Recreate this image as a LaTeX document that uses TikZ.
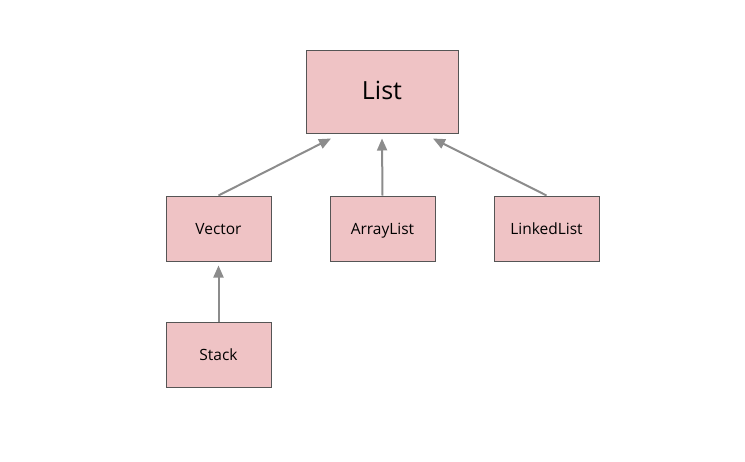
\documentclass[tikz,border=0pt]{standalone}
\usepackage{fontspec}
\setmainfont{Open Sans}
\usetikzlibrary{arrows.meta,calc}
\definecolor{boxfill}{HTML}{EFC3C5}
\definecolor{boxline}{HTML}{555555}
\definecolor{arrowc}{HTML}{8C8C8C}
\tikzset{
  cls/.style={draw=boxline, line width=1pt, fill=boxfill, minimum width=105pt, minimum height=65pt, inner sep=0pt, text height=1.4em, text depth=0.2em, font=\fontsize{15.5}{18}\selectfont},
  big/.style={cls, minimum width=152pt, minimum height=83pt, text height=1.85em, text depth=0.2em, font=\fontsize{25}{28}\selectfont},
  inh/.style={draw=arrowc, line width=2pt, -{Triangle[length=12pt,width=10pt]}, color=arrowc}
}
\begin{document}
\begin{tikzpicture}[x=1pt,y=-1pt]
\useasboundingbox (0,0) rectangle (745,461);
\node[big] (list) at (382,91.5) {List};
\node[cls] (vec) at (218.5,228.5) {Vector};
\node[cls] (arr) at (382.5,228.5) {ArrayList};
\node[cls] (lnk) at (546.5,228.5) {LinkedList};
\node[cls] (stk) at (218.5,354.5) {Stack};
\coordinate (t1) at ($(list.south)+(-51,5)$);
\coordinate (t2) at ($(list.south)+(0,5)$);
\coordinate (t3) at ($(list.south)+(51,5)$);
\coordinate (t4) at ($(vec.south)+(0,4)$);
\draw[inh] (vec.north) -- (t1);
\draw[inh] (arr.north) -- (t2);
\draw[inh] (lnk.north) -- (t3);
\draw[inh] (stk.north) -- (t4);
\end{tikzpicture}
\end{document}
